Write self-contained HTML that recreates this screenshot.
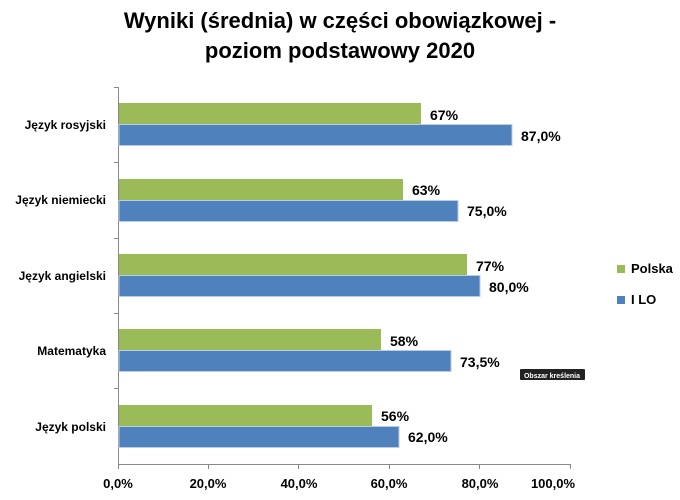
<!DOCTYPE html>
<html><head><meta charset="utf-8"><style>
body{margin:0;background:#fff;}
svg text{font-family:"Liberation Sans",sans-serif;font-weight:bold;fill:#000;}
</style></head><body>
<svg width="680" height="495" xmlns="http://www.w3.org/2000/svg">
<text x="340" y="28" font-size="22" text-anchor="middle">Wyniki (średnia) w części obowiązkowej -</text>
<text x="340" y="58" font-size="22" text-anchor="middle">poziom podstawowy  2020</text>
<g stroke="#888" stroke-width="1">
<line x1="118.5" y1="87" x2="118.5" y2="464"/>
<line x1="118" y1="464.5" x2="570" y2="464.5"/>
<line x1="114" y1="87.5" x2="118" y2="87.5"/>
<line x1="114" y1="162.5" x2="118" y2="162.5"/>
<line x1="114" y1="238.5" x2="118" y2="238.5"/>
<line x1="114" y1="313.5" x2="118" y2="313.5"/>
<line x1="114" y1="388.5" x2="118" y2="388.5"/>
<line x1="118.5" y1="464" x2="118.5" y2="469"/>
<line x1="208.5" y1="464" x2="208.5" y2="469"/>
<line x1="298.5" y1="464" x2="298.5" y2="469"/>
<line x1="389.5" y1="464" x2="389.5" y2="469"/>
<line x1="479.5" y1="464" x2="479.5" y2="469"/>
<line x1="570.5" y1="464" x2="570.5" y2="469"/>
</g>
<g font-size="13" text-anchor="middle">
<text x="118" y="488">0,0%</text><text x="208" y="488">20,0%</text><text x="299" y="488">40,0%</text>
<text x="389" y="488">60,0%</text><text x="480" y="488">80,0%</text><text x="553" y="488">100,0%</text>
</g>
<g font-size="12" text-anchor="end">
<text x="106" y="129">Język rosyjski</text>
<text x="106" y="204">Język niemiecki</text>
<text x="106" y="280">Język angielski</text>
<text x="106" y="355">Matematyka</text>
<text x="106" y="431">Język polski</text>
</g>
<g fill="#9bbb59">
<rect x="119" y="103" width="302" height="21"/>
<rect x="119" y="179" width="284" height="21"/>
<rect x="119" y="254" width="348" height="21"/>
<rect x="119" y="329" width="262" height="21"/>
<rect x="119" y="405" width="253" height="21"/>
</g>
<g fill="#4f81bd" stroke="#b8cce4" stroke-width="1">
<rect x="119" y="124.5" width="393" height="21"/>
<rect x="119" y="200.5" width="339" height="21"/>
<rect x="119" y="275.5" width="361" height="21"/>
<rect x="119" y="350.5" width="332" height="21"/>
<rect x="119" y="426.5" width="280" height="21"/>
</g>
<g font-size="14">
<text x="430" y="120">67%</text><text x="521" y="141">87,0%</text>
<text x="412" y="195">63%</text><text x="467" y="216">75,0%</text>
<text x="476" y="271">77%</text><text x="489" y="292">80,0%</text>
<text x="390" y="346">58%</text><text x="460" y="367">73,5%</text>
<text x="381" y="421">56%</text><text x="408" y="442">62,0%</text>
</g>
<rect x="520" y="369" width="65" height="11" fill="#222" rx="1"/>
<text x="552" y="378" font-size="7" fill="#fff" style="fill:#fff" text-anchor="middle">Obszar kreślenia</text>
<rect x="617" y="265" width="8" height="8" fill="#9bbb59"/>
<text x="631" y="273" font-size="13">Polska</text>
<rect x="617" y="296" width="8" height="8" fill="#4f81bd"/>
<text x="631" y="304" font-size="13">I LO</text>
</svg>
</body></html>
